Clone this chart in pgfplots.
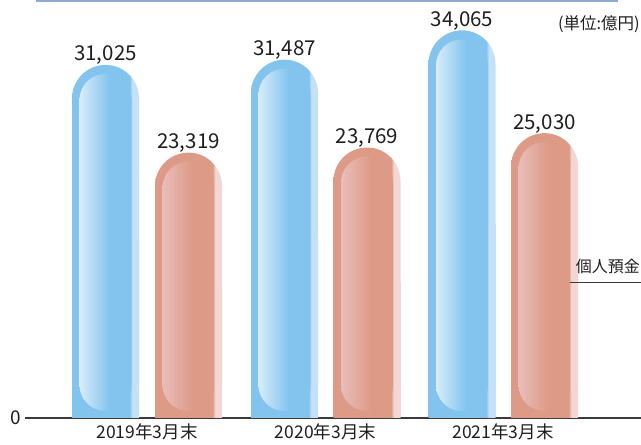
\documentclass[border=0pt]{standalone}
\usepackage{pgfplots}
\pgfplotsset{compat=1.18}
\usepackage{pgfplotstable}
\usepackage{fontspec}
\setmainfont{Noto Sans CJK JP}

\definecolor{bmain}{HTML}{82C4EE}
\definecolor{blight}{HTML}{C4E1F7}
\definecolor{binner}{HTML}{D8ECFA}
\definecolor{smain}{HTML}{DD9A87}
\definecolor{slight}{HTML}{F2D7D4}
\definecolor{sinner}{HTML}{E9BDB9}
\definecolor{topline}{HTML}{8FA9D4}
\definecolor{axisgray}{HTML}{3A3A3A}
\definecolor{txt}{HTML}{1E1E1E}

\pgfdeclarehorizontalshading{bOuter}{100bp}{color(0bp)=(bmain); color(25bp)=(bmain); color(68bp)=(bmain); color(70bp)=(blight); color(100bp)=(blight)}
\pgfdeclarehorizontalshading{bInner}{100bp}{color(0bp)=(binner); color(25bp)=(binner); color(54bp)=(bmain); color(100bp)=(bmain)}
\pgfdeclarehorizontalshading{sOuter}{100bp}{color(0bp)=(smain); color(25bp)=(smain); color(68bp)=(smain); color(70bp)=(slight); color(100bp)=(slight)}
\pgfdeclarehorizontalshading{sInner}{100bp}{color(0bp)=(sinner); color(25bp)=(sinner); color(54bp)=(smain); color(100bp)=(smain)}

\pgfplotstableread{
x v lab
105.5 31025 31,025
284.5 31487 31,487
462 34065 34,065
}\blueT
\pgfplotstableread{
x v lab
188.5 23319 23,319
367 23769 23,769
544.5 25030 25,030
}\salmonT

\pgfplotsset{
  base/.style={
    scale only axis, width=616pt, height=418pt,
    at={(25pt,27pt)}, anchor=south west,
    xmin=25, xmax=641,
    ybar, bar width=67,
    clip=false,
  },
}
% #1 table, #2 x-domain around the bar, #3 shading
\newcommand\outerbar[3]{%
  \addplot[bar shift=0pt, draw=none, shade, shading=#3, rounded corners=33.5pt, restrict x to domain=#2] table[x=x, y=v]{#1};
  \addplot[bar shift=0pt, draw=none, shade, shading=#3, restrict x to domain=#2] table[x=x, y expr=\thisrow{v}/2]{#1};
}
\newcommand\innerbar[3]{%
  \addplot[bar shift=0pt, bar width=52, draw=none, shade, shading=#3, rounded corners=26pt, restrict x to domain=#2] table[x=x, y expr=\thisrow{v}-1405]{#1};
}

\begin{document}
\begin{tikzpicture}
\useasboundingbox (0,0) rectangle (641pt,445pt);
\begin{axis}[base, ymin=0, ymax=36730,
  axis x line=bottom, axis y line=left,
  x axis line style={-, draw=axisgray, line width=1.2pt},
  y axis line style={draw=none},
  xtick={147,325.5,503},
  xticklabels={2019年3月末,2020年3月末,2021年3月末},
  ytick={0},
  major tick length=0pt,
  /pgf/number format/assume math mode=true,
  xticklabel style={font=\fontsize{17.5}{20}\selectfont, text=txt, anchor=base, yshift=-21pt},
  yticklabel style={font=\fontsize{19}{22}\selectfont, text=txt},
]
\outerbar{\blueT}{104:107}{bOuter}
\outerbar{\blueT}{283:286}{bOuter}
\outerbar{\blueT}{460:464}{bOuter}
\outerbar{\salmonT}{187:190}{sOuter}
\outerbar{\salmonT}{365:369}{sOuter}
\outerbar{\salmonT}{543:546}{sOuter}
% value labels
\addplot[bar shift=0pt, draw=none, fill=none, nodes near coords, point meta=explicit symbolic,
  every node near coord/.append style={font=\fontsize{20.5}{24}\selectfont, text=txt, anchor=base, inner sep=0pt, yshift=4pt}]
  table[x=x, y=v, meta=lab]{\blueT};
\addplot[bar shift=0pt, draw=none, fill=none, nodes near coords, point meta=explicit symbolic,
  every node near coord/.append style={font=\fontsize{20.5}{24}\selectfont, text=txt, anchor=base, inner sep=0pt, yshift=4pt}]
  table[x=x, y=v, meta=lab]{\salmonT};
% decorations
\draw[topline, line width=2pt] (axis cs:36,36642) -- (axis cs:618,36642);
\node[anchor=base east, inner sep=0pt, text=txt, font=\fontsize{16.5}{19}\selectfont] at (axis cs:640,34181) {(単位:億円)};
\node[anchor=base east, inner sep=0pt, text=txt, font=\fontsize{16}{19}\selectfont] at (axis cs:640,12829) {個人預金};
\draw[axisgray, line width=1pt] (axis cs:546,11950) -- (axis cs:641,11950);
\end{axis}
\begin{axis}[base, ymin=-615, ymax=36115, hide axis]
\innerbar{\blueT}{104:107}{bInner}
\innerbar{\blueT}{283:286}{bInner}
\innerbar{\blueT}{460:464}{bInner}
\innerbar{\salmonT}{187:190}{sInner}
\innerbar{\salmonT}{365:369}{sInner}
\innerbar{\salmonT}{543:546}{sInner}
\end{axis}
\end{tikzpicture}
\end{document}
